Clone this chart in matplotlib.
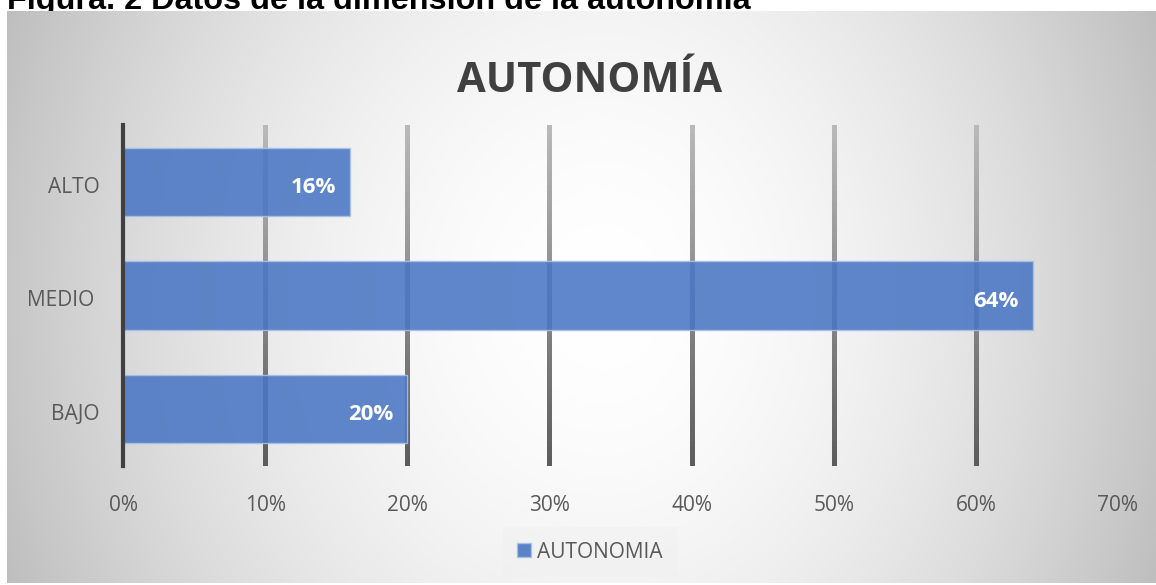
import numpy as np
import matplotlib
matplotlib.use("Agg")
import matplotlib.pyplot as plt
from matplotlib.collections import LineCollection
from matplotlib.patches import Patch

# ---- data ----
categories = ["BAJO", "MEDIO ", "ALTO"]
values = [0.20, 0.64, 0.16]
value_labels = ["20%", "64%", "16%"]
xticks = [0.0, 0.1, 0.2, 0.3, 0.4, 0.5, 0.6, 0.7]
xtick_labels = ["0%", "10%", "20%", "30%", "40%", "50%", "60%", "70%"]
title = "AUTONOMÍA"
series_name = "AUTONOMIA"
caption = "Figura. 2 Datos de la dimensión de la autonomía"

W, H = 1156, 585
plt.rcParams["font.family"] = ["Open Sans", "DejaVu Sans"]

fig = plt.figure(figsize=(W / 100, H / 100), dpi=100)
fig.patch.set_facecolor("white")

# caption (partly hidden behind the chart box, as in the source)
fig.text(7 / W, 1 - 9.5 / H, caption, fontsize=23.3, fontweight="bold",
         family=["Liberation Sans", "DejaVu Sans"], color="black",
         va="baseline", ha="left", zorder=-20)

# chart box with soft radial gradient
bx0, by0, bx1, by1 = 7, 11, 1156, 583
bg = fig.add_axes([bx0 / W, 1 - by1 / H, (bx1 - bx0) / W, (by1 - by0) / H])
bg.set_zorder(-10)
ny, nx = 300, 600
yy, xx = np.mgrid[0:1:ny * 1j, 0:1:nx * 1j]
cx = 0.52
dx = np.where(xx < cx, (xx - cx) / cx, (xx - cx) / (1 - cx))
dy = (yy - 0.5) / 1.2
d = np.sqrt(dx ** 2 + dy ** 2)
v = 1 - 0.22 * np.clip(d, 0, 1.2) ** 1.8
img = np.dstack([v, v, v])
bg.imshow(img, extent=[0, 1, 0, 1], aspect="auto", interpolation="bilinear")
bg.set_axis_off()

# main axes
ax = fig.add_axes([123 / W, 1 - 466 / H, (1118 - 123) / W, 341 / H])
ax.patch.set_alpha(0)
ypos = np.arange(len(categories))

# gradient grid lines (light at top, dark at bottom)
ylo, yhi = -0.5, len(categories) - 0.5
nseg = 60
ys = np.linspace(ylo, yhi, nseg + 1)
for t in xticks[1:-1]:
    segs = [[(t, ys[i]), (t, ys[i + 1])] for i in range(nseg)]
    shade = np.linspace(0.36, 0.72, nseg)
    cols = [(s, s, s) for s in shade]
    lc = LineCollection(segs, colors=cols, linewidths=2.2, zorder=1,
                        capstyle="projecting", antialiased=False)
    ax.add_collection(lc)

bars = ax.barh(ypos, values, height=0.6, color="#4a76c4", alpha=0.88,
               edgecolor="#aac0e6", linewidth=1.0, zorder=2)

for y, val, lab in zip(ypos, values, value_labels):
    ax.annotate(lab, xy=(val, y), xytext=(-10, -4), textcoords="offset points",
                ha="right", va="center", color="white", fontsize=16,
                fontweight="bold", zorder=3)

ax.set_xlim(xticks[0], xticks[-1])
ax.set_ylim(ylo, yhi)
ax.set_xticks(xticks)
ax.set_xticklabels(xtick_labels)
ax.set_yticks(ypos)
ax.set_yticklabels(categories)
ax.tick_params(axis="both", length=0, labelsize=15, labelcolor="#595959")
ax.tick_params(axis="x", pad=21)
ax.tick_params(axis="y", pad=17)
for lbl in ax.get_yticklabels():
    lbl.set_verticalalignment("center_baseline")
    lbl.set_y(lbl.get_position()[1])
import matplotlib.transforms as mtrans
off = mtrans.ScaledTranslation(0, -3 / 100, fig.dpi_scale_trans)
for lbl in ax.get_yticklabels():
    lbl.set_transform(lbl.get_transform() + off)

for s in ["top", "right", "bottom"]:
    ax.spines[s].set_visible(False)
ax.spines["left"].set_color("#404040")
ax.spines["left"].set_linewidth(3)
ax.spines["left"].set_zorder(4)

# title
fig.text(590 / W, 1 - 92 / H, title, ha="center", va="baseline",
         fontsize=30, fontweight="bold", color="#404040")

# legend
handle = Patch(facecolor="#4a76c4", edgecolor="#aac0e6", alpha=0.9, label=series_name)
leg = ax.legend(handles=[handle], loc="center",
                bbox_to_anchor=(590 / W, 1 - 552 / H),
                bbox_transform=fig.transFigure, frameon=True,
                facecolor="#eeeeee", edgecolor="none", framealpha=0.35,
                handlelength=0.65, handleheight=0.65, handletextpad=0.3,
                fontsize=15, borderpad=0.7, borderaxespad=0)
for t in leg.get_texts():
    t.set_color("#595959")
leg.get_frame().set_boxstyle("square", pad=0)

fig.savefig("out.png", dpi=100)
